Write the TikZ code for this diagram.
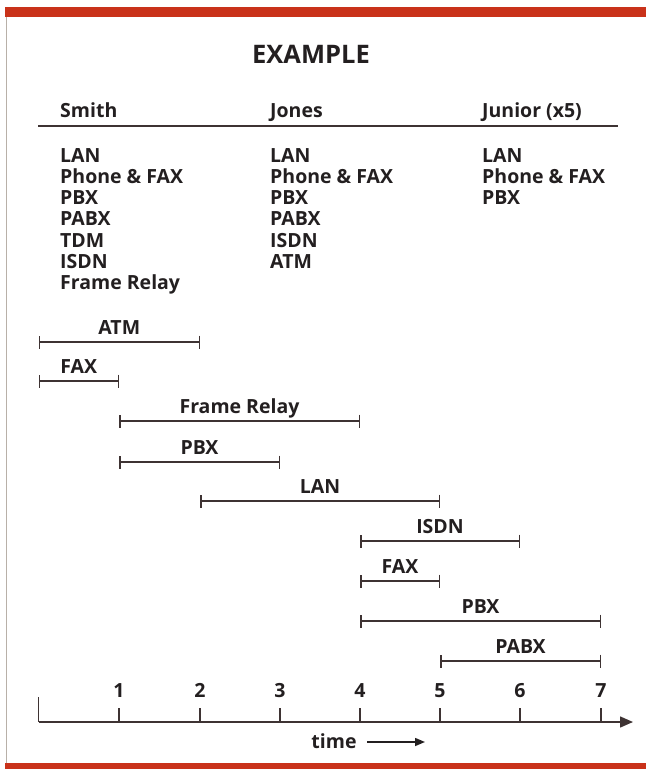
\documentclass[tikz,border=0pt]{standalone}
\usepackage{fontspec}
\setmainfont{Open Sans}
\usetikzlibrary{arrows.meta}
\definecolor{redbar}{HTML}{C9321A}
\definecolor{ink}{HTML}{231F20}
\definecolor{barink}{HTML}{3E3333}
\definecolor{frameline}{HTML}{B8B0A8}
\begin{document}
\begin{tikzpicture}[x=1pt,y=-1pt,
  txt/.style={font=\fontsize{19.5}{19.5}\selectfont\bfseries, text=ink, inner sep=0pt},
  title/.style={font=\fontsize{25.5}{25.5}\selectfont\bfseries, text=ink, inner sep=0pt},
  timebar/.style={draw=barink, line width=1.5pt, {Bar[width=13pt]}-{Bar[width=13pt]}},
  axisline/.style={draw=barink, line width=1.5pt},
  tick/.style={draw=barink, line width=1.5pt}]
\useasboundingbox (0,0) rectangle (646,769);
% frame
\fill[redbar] (5,7) rectangle (646,17);
\fill[redbar] (5,763) rectangle (646,769);
\draw[frameline, line width=1.2pt] (6.5,17) -- (6.5,763);
% title
\node[title, anchor=base] (ttl) at (311,63) {EXAMPLE};
% column headers
\node[txt, anchor=base west] (hs) at (60,117.5) {Smith};
\node[txt, anchor=base west] (hj) at (270,117.5) {Jones};
\node[txt, anchor=base west] (hu) at (482,117.5) {Junior (x5)};
\coordinate (ruleA) at (38,126);
\coordinate (ruleB) at (618,126);
\draw[draw=barink, line width=1.8pt] (ruleA) -- (ruleB);
% lists
\foreach \t [count=\i] in {LAN,Phone \& FAX,PBX,PABX,TDM,ISDN,Frame Relay}
  \node[txt, anchor=base west] (s\i) at (60,{162+21.3*(\i-1)}) {\t};
\foreach \t [count=\i] in {LAN,Phone \& FAX,PBX,PABX,ISDN,ATM}
  \node[txt, anchor=base west] (j\i) at (270,{162+21.3*(\i-1)}) {\t};
\foreach \t [count=\i] in {LAN,Phone \& FAX,PBX}
  \node[txt, anchor=base west] (u\i) at (482,{162+21.3*(\i-1)}) {\t};
% time bars
\foreach \a/\b/\y/\t [count=\i] in {
  38.5/200/342/ATM,
  38.5/119/381/FAX,
  119/360/421/Frame Relay,
  119/280/462/PBX,
  200/440/501/LAN,
  360/520/541/ISDN,
  360/440/581/FAX,
  360/601/621/PBX,
  440/601/661/PABX}{
  \coordinate (b\i a) at (\a,\y);
  \coordinate (b\i b) at (\b,\y);
  \draw[timebar] (b\i a) -- (b\i b);
  \node[txt, anchor=base] (bl\i) at ({(\a+\b)/2},{\y-8}) {\t};
}
% axis
\coordinate (ax0) at (38.5,722);
\coordinate (axE) at (633,722);
\coordinate (ax0top) at (38.5,697);
\draw[axisline, -{Triangle[length=13pt,width=11pt]}] (ax0) -- (axE);
\draw[tick] (ax0) -- (ax0top);
\foreach \n/\x in {1/119,2/200,3/280,4/360,5/440,6/520,7/601}{
  \coordinate (tk\n) at (\x,722);
  \coordinate (tt\n) at (\x,708);
  \draw[tick] (tk\n) -- (tt\n);
  \node[txt, anchor=base] (n\n) at (\x,697) {\n};
}
\node[txt, anchor=base] (time) at (334,748.5) {time};
\coordinate (tA) at (367,742);
\coordinate (tB) at (425,742);
\draw[draw=ink, line width=1.5pt, -{Triangle[length=10pt,width=8pt]}] (tA) -- (tB);
\end{tikzpicture}
\end{document}
